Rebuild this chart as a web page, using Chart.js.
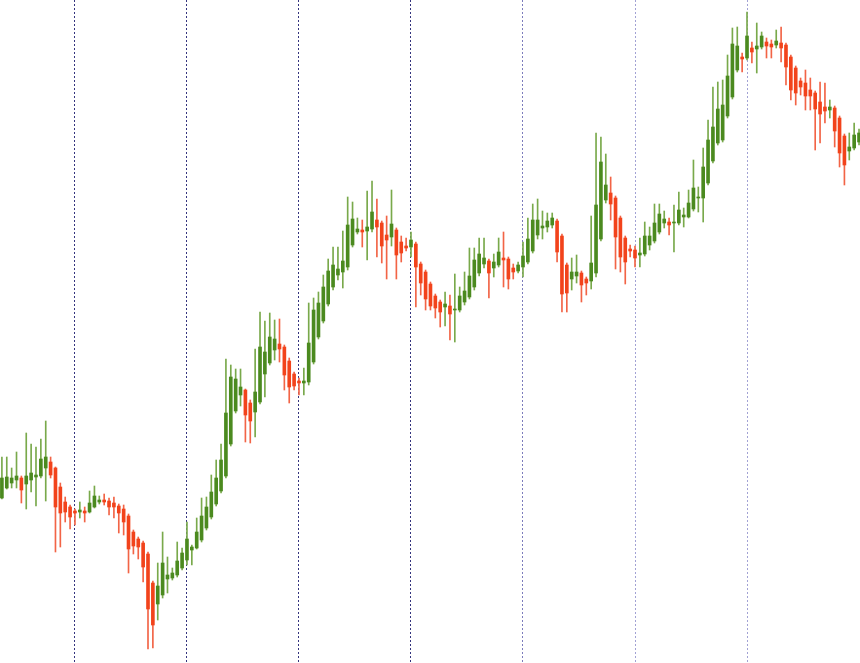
<!DOCTYPE html>
<html>
<head>
<meta charset="utf-8">
<script src="https://cdn.jsdelivr.net/npm/chart.js@4/dist/chart.umd.min.js"></script>
<style>
  html, body { margin: 0; padding: 0; background: #fff; }
  #wrap { width: 860px; height: 663px; position: relative; }
</style>
</head>
<body>
<div id="wrap"><canvas id="candles"></canvas></div>
<script>
// price points per bar (oldest first)
const open = [202,212,217,220,222,216,220,223,224,232,238,232,213,198,193,189,188,189,188,193,198,200,199,197,194,191,184,168,161,157,
  146,117,96,105,121,122,125,132,140,150,152,160,172,183,196,209,224,256,289,305,310,297,288,298,326,337,350,356,353,339,
  326,319,317,318,338,363,379,396,413,425,428,433,455,468,470,469,471,480,477,465,463,470,458,454,453,456,436,428,416,404,
  398,393,394,390,390,398,403,413,427,436,439,432,435,442,441,432,429,433,438,449,465,472,473,475,479,464,435,421,424,427,
  421,419,427,461,500,507,502,482,462,451,450,445,446,455,459,468,477,478,477,477,483,483,491,502,502,517,539,557,560,584,
  603,630,643,642,652,651,653,658,656,655,657,655,643,632,619,617,610,607,598,593,590,592,582,564,549,552,558];
const high = [243,243,232,248,224,267,256,253,261,279,243,233,217,203,195,191,198,193,209,214,204,206,202,203,196,195,186,170,163,159,
  148,119,137,168,143,132,158,152,178,155,182,202,203,225,240,256,341,335,331,331,311,300,351,388,379,387,380,381,355,342,
  328,322,332,397,402,408,425,441,453,453,469,503,498,482,480,509,519,501,479,484,510,472,464,462,468,458,438,430,418,406,
  400,408,405,426,413,428,452,452,462,462,441,446,462,468,443,436,438,458,482,496,501,489,487,487,481,466,437,442,445,429,
  423,484,567,563,546,523,504,484,464,455,454,462,478,473,496,496,489,482,495,508,492,510,540,513,552,580,613,618,620,645,
  672,673,647,688,658,677,668,662,660,670,673,657,645,634,622,630,622,609,618,617,600,594,584,566,567,577,571];
const low = [201,211,212,212,197,191,208,194,222,199,222,148,153,178,171,175,182,178,187,192,196,195,185,182,167,165,127,146,141,118,
  51,52,80,102,107,120,123,130,135,135,151,158,170,181,194,207,222,254,287,294,258,257,263,296,303,335,340,338,310,297,
  310,305,305,315,336,361,377,394,410,420,412,430,453,466,453,440,468,443,437,421,454,421,438,449,443,393,405,390,390,382,
  373,374,360,358,388,395,401,410,424,432,402,423,433,413,411,421,427,423,436,447,461,461,468,472,438,388,388,410,417,398,
  405,411,423,459,497,480,431,428,416,443,433,433,444,450,457,466,472,465,448,475,473,482,489,488,478,515,537,555,558,582,
  601,628,628,640,637,627,651,642,642,652,638,615,600,595,605,590,590,550,557,577,582,553,533,515,540,550,555];
const close = [222,223,222,224,210,224,227,225,241,243,225,193,187,188,183,187,190,187,197,204,200,198,193,193,187,178,151,154,153,133,
  91,75,114,137,125,127,139,147,161,153,168,184,193,208,222,240,287,323,321,313,285,279,308,353,348,363,361,351,325,313,
  314,317,319,357,390,397,413,429,435,431,439,475,481,471,468,473,488,473,454,460,476,445,447,452,460,433,417,401,394,392,
  388,396,386,391,404,409,424,440,446,442,427,438,448,440,421,428,435,444,461,480,480,474,479,482,448,406,407,428,428,415,
  417,437,495,538,515,496,463,443,438,449,442,447,464,464,477,486,481,475,478,490,485,497,512,503,533,560,573,591,595,624,
  656,654,641,664,648,654,664,654,653,659,652,633,610,607,613,604,604,591,586,589,593,569,547,535,553,565,567];

// bars where the dotted separators fall
const separators = [15, 38, 61, 84, 107, 130, 153];
const sepColors = ['#34347e', '#34347e', '#34347e', '#34347e', '#7c7cbc', '#a2a2d4', '#a2a2d4'];

const idx = open.map((_, i) => i);
const up = idx.map(i => close[i] >= open[i]);

new Chart(document.querySelector('#candles'), {
  type: 'bar',
  data: {
    datasets: [{
      label: 'body',
      order: 0,
      grouped: false,
      data: idx.map(i => ({x: i, y: [open[i], close[i]]})),
      backgroundColor: up.map(u => u ? '#4b8a1f' : '#f2431b'),
      barThickness: 3,
      minBarLength: 1,
      borderWidth: 0,
      borderSkipped: false
    }, {
      label: 'wick',
      order: 1,
      grouped: false,
      data: idx.map(i => ({x: i, y: [low[i], high[i]]})),
      backgroundColor: up.map(u => u ? '#79a94b' : '#f26446'),
      barThickness: 1,
      borderWidth: 0,
      borderSkipped: false
    }]
  },
  options: {
    responsive: true,
    maintainAspectRatio: false,
    animation: false,
    layout: { padding: 0 },
    scales: {
      x: {
        type: 'linear',
        offset: false,
        min: -0.39,
        max: 176.2,
        afterBuildTicks: axis => { axis.ticks = separators.map(v => ({value: v})); },
        ticks: { display: false },
        grid: {
          offset: false,
          drawTicks: false,
          lineWidth: 1,
          color: ctx => sepColors[ctx.index] || '#34347e'
        },
        border: { display: false, dash: [2, 2] }
      },
      y: {
        display: false,
        min: 37,
        max: 700
      }
    },
    plugins: {
      legend: { display: false },
      tooltip: { enabled: false }
    }
  }
});
</script>
</body>
</html>
